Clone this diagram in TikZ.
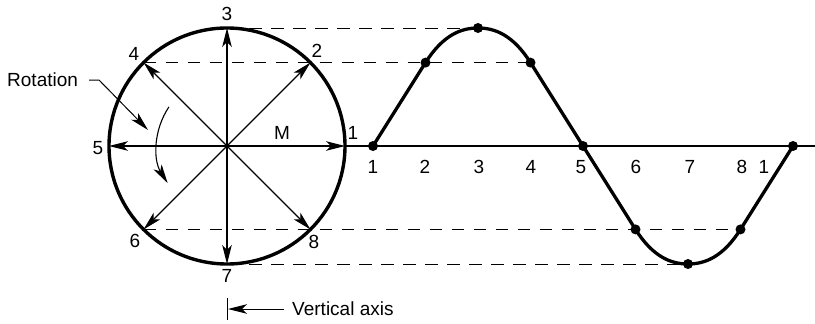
\documentclass[tikz,border=0pt]{standalone}
\usepackage{fontspec}
\setmainfont{Liberation Sans}
\usetikzlibrary{arrows.meta}
\begin{document}
\begin{tikzpicture}[x=1pt,y=-1pt,>={Stealth[length=19pt,width=9.5pt,inset=5pt]},
  font=\fontsize{19}{22}\selectfont,
  vec/.style={->,line width=1.1pt},
  proj/.style={line width=1pt,dash pattern=on 12.5pt off 9.5pt},
  dot/.style={circle,fill,inner sep=0pt,minimum size=10pt},
  lbl/.style={inner sep=0pt}]
\useasboundingbox (0,0) rectangle (815,324);
% circle points
\coordinate (O) at (227,146);
\coordinate (c1) at (345,146);
\coordinate (c2) at (310.4,62.6);
\coordinate (c3) at (227,28);
\coordinate (c4) at (143.6,62.6);
\coordinate (c5) at (109,146);
\coordinate (c6) at (143.6,229.4);
\coordinate (c7) at (227,264);
\coordinate (c8) at (310.4,229.4);
% wave points
\coordinate (s1) at (373,146);
\coordinate (s2) at (425.5,62.6);
\coordinate (s3) at (478,28);
\coordinate (s4) at (530.5,62.6);
\coordinate (s5) at (583,146);
\coordinate (s6) at (635.5,229.4);
\coordinate (s7) at (688,264);
\coordinate (s8) at (740.5,229.4);
\coordinate (s9) at (793,146);
\coordinate (axend) at (815,146);
% projections
\draw[proj] (c3) -- (s3);
\draw[proj] (c4) -- (s4);
\draw[proj] (c6) -- (s8);
\draw[proj] (c7) -- (s7);
\draw[line width=1.1pt] (c1) -- (axend);
\foreach \i in {1,...,8}
  \draw[vec] (O) -- (c\i);
\draw[line width=3.4pt] (O) circle[radius=118];
\draw[line width=3.3pt,line join=round] (s1) -- (s2)
  .. controls +(17.5,-27.6) and +(-17,0) .. (s3)
  .. controls +(17,0) and +(-17.5,-27.6) .. (s4) -- (s6)
  .. controls +(17.5,27.6) and +(-17,0) .. (s7)
  .. controls +(17,0) and +(-17.5,27.6) .. (s8) -- (s9);
\foreach \i in {1,...,9}
  \node[dot] (d\i) at (s\i) {};
% labels
\node[lbl] (n3) at (227,14) {3};
\node[lbl] (n2) at (317,51) {2};
\node[lbl] (n4) at (134,54) {4};
\node[lbl] (n1) at (353,133) {1};
\node[lbl] (n5) at (98,148) {5};
\node[lbl] (n6) at (135,241) {6};
\node[lbl] (n8) at (314,242) {8};
\node[lbl] (n7) at (227,276) {7};
\node[lbl] (m) at (282,133) {M};
\foreach \t/\x [count=\i] in {1/373,2/425,3/479,4/531,5/581,6/636,7/690,8/742,1/764}
  \node[lbl] (w\i) at (\x,167) {\t};
% rotation
\node[lbl,anchor=west] (rot) at (7,80) {Rotation};
\coordinate (rk) at (99,80);
\coordinate (rtip) at (148,130);
\draw[->,line width=1pt] ([xshift=11pt]rot.east) -- (rk) -- (rtip);
\draw[->,line width=1.1pt] (O) ++(214:70) arc[start angle=214,end angle=148,radius=70];
% vertical axis
\coordinate (vt) at (227,298);
\coordinate (vb) at (227,320);
\coordinate (va) at (228,309);
\draw[line width=1pt] (vt) -- (vb);
\node[lbl,anchor=west] (vax) at (292,309) {Vertical axis};
\draw[->,line width=1pt] ([xshift=-8pt]vax.west) -- (va);
\end{tikzpicture}
\end{document}
